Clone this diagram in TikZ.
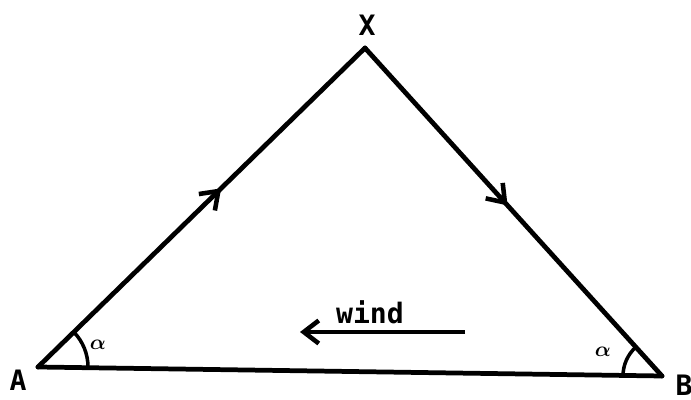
\documentclass[tikz,border=0pt]{standalone}
\usepackage{amsmath}
\usepackage{fontspec}
\setmonofont{DejaVu Sans Mono}
\usetikzlibrary{arrows.meta,decorations.markings,calc}

\tikzset{
  side/.style={line width=2.7pt, line cap=round, line join=round},
  midarrow/.style={postaction={decorate}, decoration={markings,
      mark=at position #1 with {\arrow{Straight Barb[length=3.2mm,width=4.6mm,line width=2.6pt]}}}},
  lbl/.style={font=\ttfamily\bfseries\fontsize{16}{19}\selectfont}
}

\begin{document}
\begin{tikzpicture}
\useasboundingbox (0,0) rectangle (13.82,8);

\coordinate (A) at (0.76,0.66);
\coordinate (X) at (7.3,7.04);
\coordinate (B) at (13.24,0.48);

% triangle
\draw[side, midarrow=0.56] (A) -- (X);
\draw[side, midarrow=0.48] (X) -- (B);
\draw[side] (B) -- (A);

% angles
\draw[line width=2pt] ($(A)+(0:1)$) arc (0:44:1);
\draw[line width=2pt] ($(B)+(180:0.78)$) arc (180:132:0.78);
\node[font=\large] (alphaA) at (1.96,1.1) {$\boldsymbol{\alpha}$};
\node[font=\large] (alphaB) at (12.06,0.96) {$\boldsymbol{\alpha}$};

% vertex labels
\node[lbl] (labX) at (7.34,7.5) {X};
\node[lbl] (labA) at (0.36,0.4) {A};
\node[lbl] (labB) at (13.68,0.3) {B};

% wind
\coordinate (w1) at (9.3,1.36);
\coordinate (w2) at (6.0,1.36);
\draw[line width=2.7pt, -{Straight Barb[length=3mm,width=4.6mm,line width=2.6pt]}] (w1) -- (w2);
\node[lbl] (wind) at (7.4,1.76) {wind};
\end{tikzpicture}
\end{document}
